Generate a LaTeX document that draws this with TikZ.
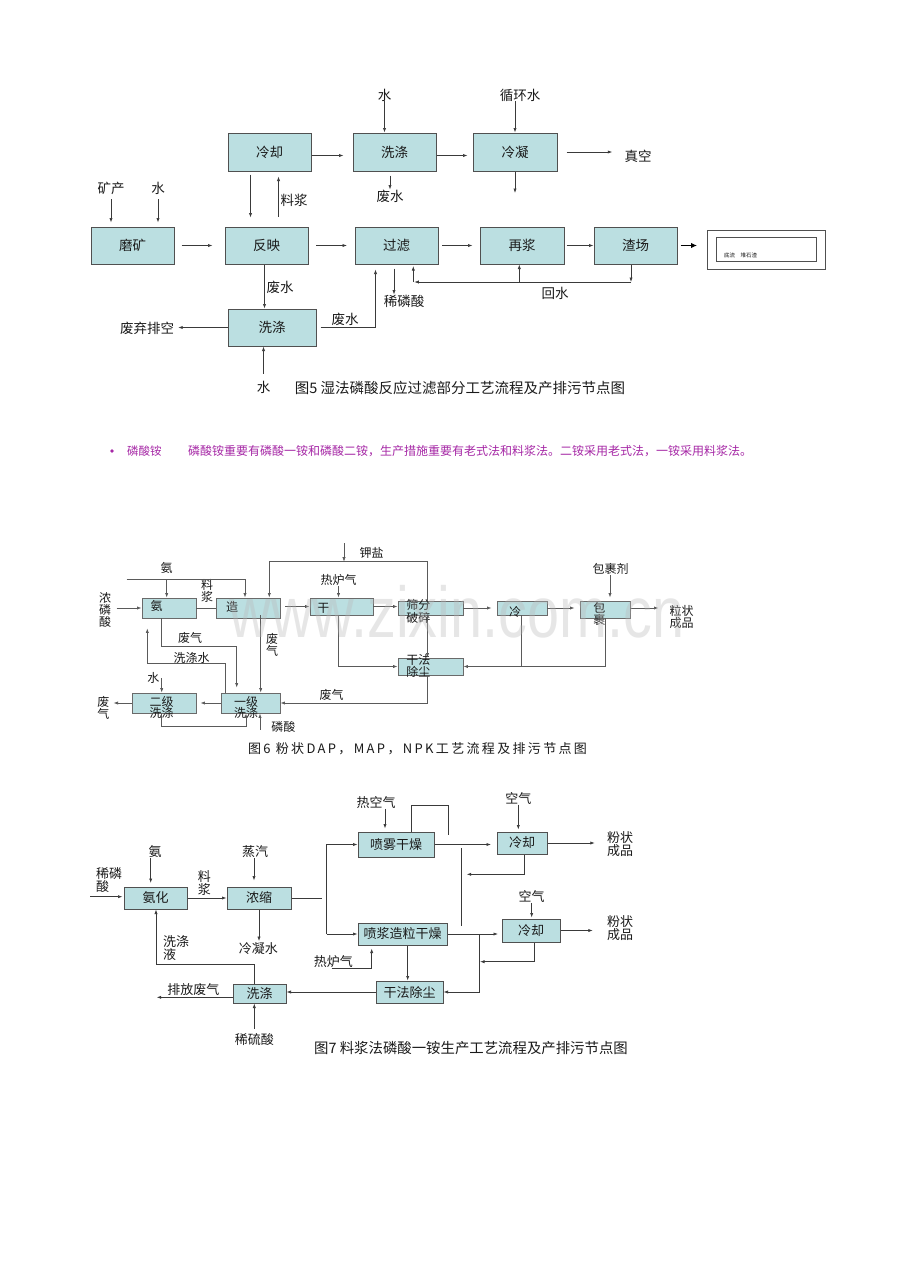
\documentclass[tikz,border=0pt]{standalone}
\usepackage{fontspec}
\setmainfont{Noto Sans CJK SC}
\newfontfamily\wmfont{Liberation Sans}
\usetikzlibrary{arrows.meta}
\definecolor{boxfill}{HTML}{BBDFE1}
\definecolor{boxline}{HTML}{505050}
\definecolor{boxsixline}{HTML}{6A6A6A}
\definecolor{lc}{HTML}{3A3A3A}
\definecolor{lcsix}{HTML}{5A5A5A}
\definecolor{txt}{HTML}{1A1A1A}
\definecolor{mag}{HTML}{A628A6}
\newcommand\ffive{\fontsize{13.5}{15}\selectfont}
\newcommand\fsix[1]{\fontsize{12}{#1}\selectfont}
\newcommand\fseven[1]{\fontsize{13}{#1}\selectfont}
\newcommand\bx[7][]{\node[box,#1,minimum width={(#5-#3)*1pt},minimum height={(#6-#4)*1pt}] (#2) at ({(#3+#5)/2},{(#4+#6)/2}) {#7};}
\begin{document}
\begin{tikzpicture}[x=1pt,y=-1pt,
 box/.style={draw=boxline,fill=boxfill,line width=1pt,inner sep=0pt,text=txt},
 boxsix/.style={draw=boxsixline,line width=0.8pt},
 lbl/.style={inner sep=0pt,text=txt},
 arr/.style={draw=lc,line width=0.7pt,-{Latex[length=4.5pt,width=3.2pt]}},
 ln/.style={draw=lc,line width=0.7pt},
 arrsix/.style={arr,draw=lcsix},
 lnsix/.style={ln,draw=lcsix}]
\fill[white] (0,0) rectangle (920,1272);
\useasboundingbox (0,0) rectangle (920,1272);

% ================= Figure 5 =================
\begin{scope}[font=\ffive]
\bx{f5cool}{228}{133}{311}{171}{冷却}
\bx{f5wash1}{353}{133}{436}{171}{洗涤}
\bx{f5cond}{473}{133}{557}{171}{冷凝}
\bx{f5grind}{91}{227}{174}{264}{磨矿}
\bx{f5react}{225}{227}{308}{264}{反映}
\bx{f5filt}{355}{227}{438}{264}{过滤}
\bx{f5reslurry}{480}{227}{564}{264}{再浆}
\bx{f5slag}{594}{227}{677}{264}{渣场}
\bx{f5wash2}{228}{309}{316}{346}{洗涤}
\node[draw=boxline,line width=0.9pt,fill=white,minimum width=118pt,minimum height=39pt,inner sep=0pt] (f5leg) at (766,249.5) {};
\node[draw=boxline,line width=0.9pt,minimum width=100pt,minimum height=24pt,inner sep=0pt] (f5legin) at (766,249.5) {};
\node[lbl,font=\fontsize{5.5}{6}\selectfont,anchor=west] (f5legtxt) at (724,255.5) {底流　堆石渣};

\node[lbl] (f5w1) at (384.5,95) {水};
\node[lbl] (f5cw) at (520,95) {循环水};
\node[lbl] (f5ww1) at (390,196) {废水};
\node[lbl] (f5vac) at (638,156) {真空};
\node[lbl] (f5ore) at (111,188) {矿产};
\node[lbl] (f5w2) at (158,188) {水};
\node[lbl] (f5slurry) at (294,200) {料浆};
\node[lbl] (f5ww2) at (280,287) {废水};
\node[lbl] (f5ww3) at (345,319) {废水};
\node[lbl] (f5acid) at (404,301) {稀磷酸};
\node[lbl] (f5exh) at (147,328) {废弃排空};
\node[lbl] (f5w3) at (263.5,387) {水};
\node[lbl] (f5ret) at (555,293) {回水};
\node[lbl,font=\fontsize{14.5}{16}\selectfont] (f5cap) at (460,388) {图5 湿法磷酸反应过滤部分工艺流程及产排污节点图};
\end{scope}

\draw[arr,shorten >=9pt] ([yshift=-3.5pt]f5cool.east) -- ([yshift=-3.5pt]f5wash1.west);
\draw[arr,shorten >=5pt] ([yshift=-3.5pt]f5wash1.east) -- ([yshift=-3.5pt]f5cond.west);
\draw[arr,shorten <=9pt,shorten >=12pt] (f5cond.east) -- (f5cond.east -| f5vac.west);
\draw[arr] (f5w1.south) -- (f5w1.south |- f5wash1.north);
\draw[arr] (f5cond.north |- f5cw.south) -- (f5cond.north);
\draw[arr,shorten <=4pt] (f5ww1.north |- f5wash1.south) -- (f5ww1.north);
\coordinate (f5cend) at (515,193);
\draw[arr] (f5cond.south) -- (f5cend);
\draw[arr,shorten <=3pt,shorten >=9pt] ([xshift=-19pt]f5cool.south) -- ([xshift=-19pt]f5cool.south |- f5react.north);
\draw[arr,shorten <=10pt,shorten >=5pt] ([xshift=9pt]f5cool.south |- f5react.north) -- ([xshift=9pt]f5cool.south);
\draw[arr,shorten <=5pt,shorten >=4pt] (f5ore.south) -- (f5ore.south |- f5grind.north);
\draw[arr,shorten <=5pt,shorten >=4pt] (f5w2.south) -- (f5w2.south |- f5grind.north);
\draw[arr,shorten <=7pt,shorten >=12pt] (f5grind.east) -- (f5react.west);
\draw[arr,shorten <=7.5pt,shorten >=7.5pt] (f5react.east) -- (f5filt.west);
\draw[arr,shorten <=3.5pt,shorten >=7pt] (f5filt.east) -- (f5reslurry.west);
\draw[arr,shorten <=2pt] (f5reslurry.east) -- (f5slag.west);
\draw[draw=black,line width=1.4pt,-{Latex[length=6pt,width=5.5pt]},shorten <=3pt,shorten >=9.5pt] (f5slag.east) -- (f5slag.east -| f5leg.west);
\draw[arr] ([xshift=-2pt]f5react.south) -- ([xshift=-2pt]f5react.south |- f5wash2.north);
\draw[arr,shorten <=7pt] (f5w3.north) -- (f5w3.north |- f5wash2.south);
\draw[arr,shorten >=4pt] (f5wash2.west) -- (f5wash2.west -| f5exh.east);
\draw[arr] ([xshift=4pt]f5wash2.east) -| ([xshift=-21pt,yshift=-5pt]f5filt.south);
\draw[arr,shorten <=4pt] ([xshift=-2.5pt]f5filt.south) -- ([xshift=-2.5pt]f5filt.south |- f5acid.north);
\coordinate (f5ret0) at (631,282);
\coordinate (f5ret1) at (413.3,282);
\draw[arr] ([xshift=-4.5pt]f5slag.south) -- (f5ret0);
\draw[arr,shorten >=1pt] (f5ret0) -- (f5ret1);
\draw[arr,shorten >=1.5pt] (f5ret1) -- (f5ret1 |- f5filt.south);
\draw[arr] ([xshift=-2.7pt]f5reslurry.south |- f5ret0) -- ([xshift=-2.7pt]f5reslurry.south);

% ================= Bullet line =================
\node[circle,fill=mag,inner sep=1.4pt] (bdot) at (112,451) {};
\node[inner sep=0pt,anchor=west,text=mag,font=\fontsize{11.5}{13}\selectfont] (btitle) at (127,451) {磷酸铵};
\node[inner sep=0pt,anchor=west,text=mag,font=\fontsize{12}{13}\selectfont] (btext) at (188,451) {磷酸铵重要有磷酸一铵和磷酸二铵，生产措施重要有老式法和料浆法。二铵采用老式法，一铵采用料浆法。};

% ================= Figure 6 =================
\begin{scope}[font=\fsix{13}]
\bx[boxsix]{f6am}{142}{598}{196}{618}{}
\bx[boxsix]{f6gr}{216}{598}{280}{618}{}
\bx[boxsix]{f6dry}{310}{598}{373}{615}{}
\bx[boxsix]{f6sc}{398}{601.5}{463}{615}{}
\bx[boxsix]{f6cool}{497}{601}{547}{615}{}
\bx[boxsix]{f6coat}{580}{601}{630}{618}{}
\bx[boxsix]{f6dust}{398}{658}{463}{675}{}
\bx[boxsix]{f6w2}{132}{693}{196}{713}{}
\bx[boxsix]{f6w1}{221}{693}{280}{713}{}

\node[lbl] (f6tam) at (156.7,606) {氨};
\node[lbl] (f6tgr) at (232,607) {造};
\node[lbl] (f6tdry) at (323.3,608) {干};
\node[lbl,align=center,font=\fsix{13}] (f6tsc) at (418.3,611.7) {筛分\\破碎};
\node[lbl] (f6tcool) at (515,611.7) {冷};
\node[lbl,align=center,font=\fsix{10}] (f6tcoat) at (599.3,614.3) {包\\裹};
\node[lbl,align=center,font=\fsix{11}] (f6tdust) at (418.3,666.2) {干法\\除尘};
\node[lbl,align=center,font=\fsix{11.6}] (f6tw2) at (161.7,707.5) {二级\\洗涤};
\node[lbl,align=center,font=\fsix{11.6}] (f6tw1) at (246,707.5) {一级\\洗涤};

\node[lbl,align=center,font=\fsix{10.7}] (f6nong) at (105,610) {浓\\磷\\酸};
\node[lbl] (f6nh) at (166.7,568.3) {氨};
\node[lbl,align=center,font=\fsix{10}] (f6slurry) at (207,591) {料\\浆};
\node[lbl] (f6k) at (371.7,552.7) {钾盐};
\node[lbl] (f6hf) at (338.5,580) {热炉气};
\node[lbl] (f6coatag) at (610.5,569.3) {包裹剂};
\node[lbl,align=center,font=\fsix{11}] (f6prod) at (681.7,617.2) {粒状\\成品};
\node[lbl] (f6gas1) at (190,638.3) {废气};
\node[lbl] (f6wwat) at (191.7,657.7) {洗涤水};
\node[lbl,align=center,font=\fsix{10}] (f6gas2) at (272,645) {废\\气};
\node[lbl] (f6water) at (153.3,678.3) {水};
\node[lbl,align=center,font=\fsix{10}] (f6exh) at (103.3,708.3) {废\\气};
\node[lbl] (f6pa) at (283.3,726.5) {磷酸};
\node[lbl] (f6gas3) at (331.7,695) {废气};
\node[lbl,font=\fontsize{13}{15}\selectfont\addfontfeature{LetterSpace=18}] (f6cap) at (417.5,749) {图6 粉状DAP，MAP，NPK工艺流程及排污节点图};
\end{scope}

\draw[arrsix,shorten <=5.5pt] (f6nong.east |- f6am.west) -- (f6am.west);
\coordinate (f6nh0) at (126.7,579);
\draw[arrsix] (f6nh0) -| ([xshift=-3pt]f6gr.north);
\draw[arrsix] ([xshift=-2.3pt]f6am.north |- f6nh0) -- ([xshift=-2.3pt]f6am.north);
\draw[lnsix] (f6am.east) -- (f6gr.west);
\draw[arrsix,shorten <=5pt] (f6gr.east |- f6dry.west) -- (f6dry.west);
\draw[arrsix] (f6dry.east) -- (f6dry.east -| f6sc.west);
\draw[arrsix,shorten >=5pt] (f6sc.east |- f6cool.west) -- (f6cool.west);
\draw[arrsix,shorten >=5pt] (f6cool.east) -- (f6cool.east -| f6coat.west);
\draw[arrsix,shorten >=11pt] (f6coat.east |- f6cool.east) -- (f6cool.east -| f6prod.west);
\draw[arrsix,shorten >=3pt] ([xshift=5pt]f6coat.north |- f6coatag.south) -- ([xshift=5pt]f6coat.north);
\draw[lnsix] ([xshift=-1pt]f6cool.south) -- ([xshift=-1pt]f6cool.south |- f6dust.east);
\draw[arrsix] (f6coat.south) |- (f6dust.east);
\draw[arrsix] ([xshift=-3.2pt]f6dry.south) |- (f6dust.west);
\draw[arrsix] ([xshift=-3pt]f6sc.south) -- ([xshift=-3pt]f6dust.north);
\coordinate (f6topR) at (427.5,561.7);
\coordinate (f6topL) at (269.3,561.7);
\draw[arrsix] ([xshift=-3pt]f6sc.north) -- (f6topR) -- (f6topL) -- (f6topL |- f6gr.north);
\coordinate (f6k0) at (344,543.3);
\draw[arrsix] (f6k0) -- (f6k0 |- f6topR);
\draw[arrsix] (f6hf.south) -- (f6hf.south |- f6dry.north);
\draw[arrsix] ([xshift=-3pt]f6dust.south) |- (f6w1.east);
\draw[arrsix] ([xshift=12.7pt,yshift=3pt]f6gr.south) -- ([xshift=12.7pt]f6gr.south |- f6w1.north);
\coordinate (f6g1) at (236.7,646.7);
\draw[arrsix,shorten >=5pt] ([xshift=-7.3pt]f6am.south) |- (f6g1) -- (f6g1 |- f6w1.north);
\coordinate (f6g2) at (225,663.3);
\draw[arrsix,shorten >=10pt] (f6g2 |- f6w1.north) -- (f6g2) -| ([xshift=-21.7pt]f6am.south);
\draw[arrsix] ([xshift=-2.3pt]f6w2.north |- f6water.center) -- ([xshift=-2.3pt]f6w2.north);
\draw[arrsix,shorten >=4pt] (f6w1.west) -- (f6w2.east);
\draw[arrsix,shorten >=4pt] (f6w2.west) -- (f6w2.west -| f6exh.east);
\coordinate (f6b1) at (246,726);
\draw[arrsix] ([xshift=-2.3pt]f6w2.south) |- (f6b1) -- (f6b1 |- f6w1.south);
\coordinate (f6p0) at (260,729.5);
\draw[arrsix] (f6p0) -- (f6p0 |- f6w1.south);

% watermark
\begin{scope}[shift={(457,637)},xscale=0.8]
\node[transform shape,anchor=base,inner sep=0pt,text=gray!55,text opacity=0.35,font=\wmfont\fontsize{72}{72}\selectfont] (wm) at (0,0) {www.zixin.com.cn};
\end{scope}

% ================= Figure 7 =================
\begin{scope}[font=\fseven{15}]
\bx{f7am}{124}{887}{187}{909}{氨化}
\bx{f7con}{227}{887}{291}{909}{浓缩}
\bx{f7spray}{358}{832}{434}{857}{喷雾干燥}
\bx{f7gran}{358}{923}{447}{945}{喷浆造粒干燥}
\bx{f7dust}{376}{981}{443}{1003}{干法除尘}
\bx{f7wash}{233}{984}{286}{1003}{洗涤}
\bx{f7c1}{497}{832}{547}{854}{冷却}
\bx{f7c2}{502}{919}{560}{942}{冷却}

\node[lbl,align=left,anchor=west,font=\fseven{11}] (f7in) at (96,880.5) {稀磷\\酸};
\node[lbl] (f7nh) at (155,851.7) {氨};
\node[lbl,align=center,font=\fseven{10}] (f7slurry) at (204.3,883.3) {料\\浆};
\node[lbl] (f7st) at (255,851.7) {蒸汽};
\node[lbl] (f7cw) at (258.3,948.3) {冷凝水};
\node[lbl] (f7ha) at (376,802.7) {热空气};
\node[lbl] (f7air1) at (518.3,798.3) {空气};
\node[lbl] (f7air2) at (531.7,896.7) {空气};
\node[lbl,align=center,font=\fseven{11.7}] (f7p1) at (620,844.2) {粉状\\成品};
\node[lbl,align=center,font=\fseven{12.6}] (f7p2) at (620,928) {粉状\\成品};
\node[lbl] (f7hf) at (333.3,961.7) {热炉气};
\node[lbl,align=left,anchor=west,font=\fseven{10.6}] (f7wl) at (163,948) {洗涤\\液};
\node[lbl] (f7ex) at (193.3,990) {排放废气};
\node[lbl] (f7acid) at (254.3,1040) {稀硫酸};
\node[lbl,font=\fontsize{14.4}{16}\selectfont] (f7cap) at (471,1048) {图7 料浆法磷酸一铵生产工艺流程及产排污节点图};
\end{scope}

\coordinate (f7src) at (90,896.7);
\draw[arr,shorten >=1pt] (f7src) -- (f7src -| f7am.west);
\draw[arr,shorten >=3.5pt] ([xshift=-4.3pt]f7nh.south) -- ([xshift=-4.8pt]f7am.north);
\draw[arr] (f7am.east) -- (f7con.west);
\draw[arr,shorten >=6pt] ([xshift=-1pt]f7st.south) -- ([xshift=-5pt]f7con.north);
\draw[arr,shorten >=1pt] (f7con.south) -- (f7con.south |- f7cw.north);
\coordinate (f7cr) at (321.7,896.7);
\draw[ln] (f7con.east) -- (f7con.east -| f7cr);
\coordinate (f7sp) at (326.7,890);
\draw[arr] (f7gran.west -| f7sp) -- (f7spray.west -| f7sp) -- (f7spray.west);
\draw[arr] (f7gran.west -| f7sp) -- (f7gran.west);
\draw[arr,shorten >=3pt] ([xshift=-11pt]f7spray.north |- f7ha.south) -- ([xshift=-11pt]f7spray.north);
\coordinate (f7lp) at (448.3,805);
\coordinate (f7lpe) at (448.3,835);
\draw[ln] ([xshift=15.7pt]f7spray.north) |- (f7lp) -- (f7lpe);
\draw[arr,shorten >=5.5pt] (f7spray.east) -- (f7spray.east -| f7c1.west);
\draw[arr,shorten >=2pt] (f7air1.south) -- (f7air1.south |- f7c1.north);
\draw[arr,shorten >=12pt] (f7c1.east) -- (f7c1.east -| f7p1.west);
\coordinate (f7r1) at (466.7,874.3);
\draw[arr] ([xshift=2.3pt]f7c1.south) |- (f7r1);
\coordinate (f7v1) at (461.7,848.3);
\coordinate (f7v2) at (461.7,925.7);
\draw[ln] (f7v1) -- (f7v2);
\draw[arr,shorten >=3.5pt] (f7gran.east) -- (f7gran.east -| f7c2.west);
\coordinate (f7j) at (479,934);
\draw[arr] (f7gran.east -| f7j) |- (f7dust.east);
\draw[arr,shorten >=1pt] (f7air2.south) -- (f7air2.south |- f7c2.north);
\draw[arr,shorten >=14pt] (f7c2.east) -- (f7c2.east -| f7p2.west);
\coordinate (f7r2) at (480,961.7);
\draw[arr] ([xshift=3pt]f7c2.south) |- (f7r2);
\draw[arr] ([xshift=5.2pt]f7gran.south) -- ([xshift=5.2pt]f7gran.south |- f7dust.north);
\coordinate (f7hf0) at (331.7,968.3);
\draw[arr,shorten >=3pt] (f7hf0) -| ([xshift=-30.8pt]f7gran.south);
\draw[arr] (f7dust.west) -- (f7dust.west -| f7wash.east);
\coordinate (f7exe) at (156.7,997.3);
\draw[arr] (f7wash.west |- f7exe) -- (f7exe);
\draw[arr] ([yshift=5pt]f7acid.north) -- (f7acid.north |- f7wash.south);
\coordinate (f7wl0) at (156,964.3);
\draw[arr] ([xshift=-5.2pt]f7wash.north) |- (f7wl0) -- (f7wl0 |- f7am.south);
\end{tikzpicture}
\end{document}
